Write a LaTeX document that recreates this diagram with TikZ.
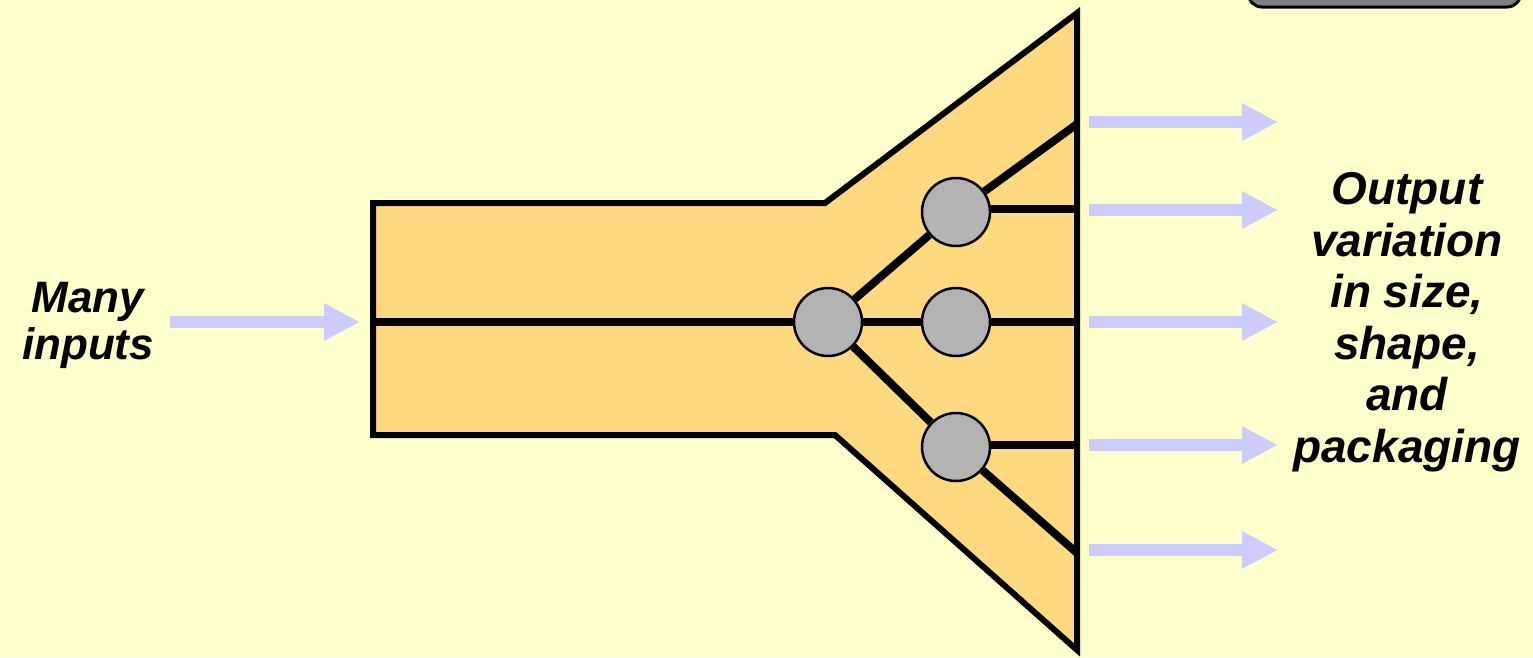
\documentclass[tikz,border=0pt]{standalone}
\usepackage{fontspec}
\setmainfont{Liberation Sans}
\usetikzlibrary{arrows.meta}
\definecolor{bg}{HTML}{FFFFCC}
\definecolor{body}{HTML}{FFD980}
\definecolor{flow}{HTML}{CCCCFF}
\definecolor{knot}{HTML}{B3B3B3}
\definecolor{boxgray}{HTML}{808080}
\tikzset{
  flowarrow/.style={draw=flow, line width=12pt, -{Triangle[length=36pt,width=35pt]}},
  pipe/.style={line width=8pt},
  knotnode/.style={circle, draw=black, line width=2.5pt, fill=knot, minimum size=68pt, inner sep=0pt},
  lbl/.style={font=\fontsize{46}{51.5}\selectfont\bfseries\itshape, align=center, text=black}
}
\begin{document}
\begin{tikzpicture}[x=1pt,y=-1pt]
\useasboundingbox (0,0) rectangle (1533,657);
\fill[bg] (0,0) rectangle (1533,657);
% top-right box (cut)
\draw[fill=boxgray, line width=3pt, rounded corners=14pt] (1248,-40) rectangle (1521,7);
% body
\draw[fill=body, line width=6pt, line join=miter]
  (373,203) -- (825,203) -- (1077,13) -- (1077,650) -- (835,435) -- (373,435) -- cycle;
% coordinates
\coordinate (inL) at (373,322);
\coordinate (eA) at (1077,124);
\coordinate (eB) at (1077,209);
\coordinate (eC) at (1077,322);
\coordinate (eD) at (1077,445);
\coordinate (eE) at (1077,553);
% nodes
\node[knotnode] (big) at (828,322) {};
\node[knotnode] (up) at (956,212) {};
\node[knotnode] (mid) at (956,322) {};
\node[knotnode] (low) at (956,447) {};
% connectors
\draw[pipe] (inL) -- (big);
\draw[pipe] (big) -- (mid);
\draw[pipe] (mid) -- (eC);
\draw[pipe] (big) -- (up);
\draw[pipe] (up) -- (eA);
\draw[pipe] (up.east |- eB) -- (eB);
\draw[pipe] (big) -- (low);
\draw[pipe] (low) -- (eE);
\draw[pipe] (low.east |- eD) -- (eD);
% arrows
\coordinate (iS) at (170,322);
\coordinate (iT) at (360,322);
\draw[flowarrow] (iS) -- (iT);
\foreach \y/\n in {122/a,210/b,322/c,445/d,550/e}{
  \coordinate (o\n S) at (1089,\y);
  \coordinate (o\n T) at (1278,\y);
  \draw[flowarrow] (o\n S) -- (o\n T);
}
% labels
\node[lbl, font=\fontsize{44}{41}\selectfont\bfseries\itshape, anchor=base] (many) at (88,312) {Many};
\node[lbl, font=\fontsize{44}{41}\selectfont\bfseries\itshape, anchor=base] (inputs) at (88,359) {inputs};
\node[lbl, anchor=base] (out) at (1407,462) {Output\\variation\\in size,\\shape,\\and\\packaging};
\end{tikzpicture}
\end{document}
